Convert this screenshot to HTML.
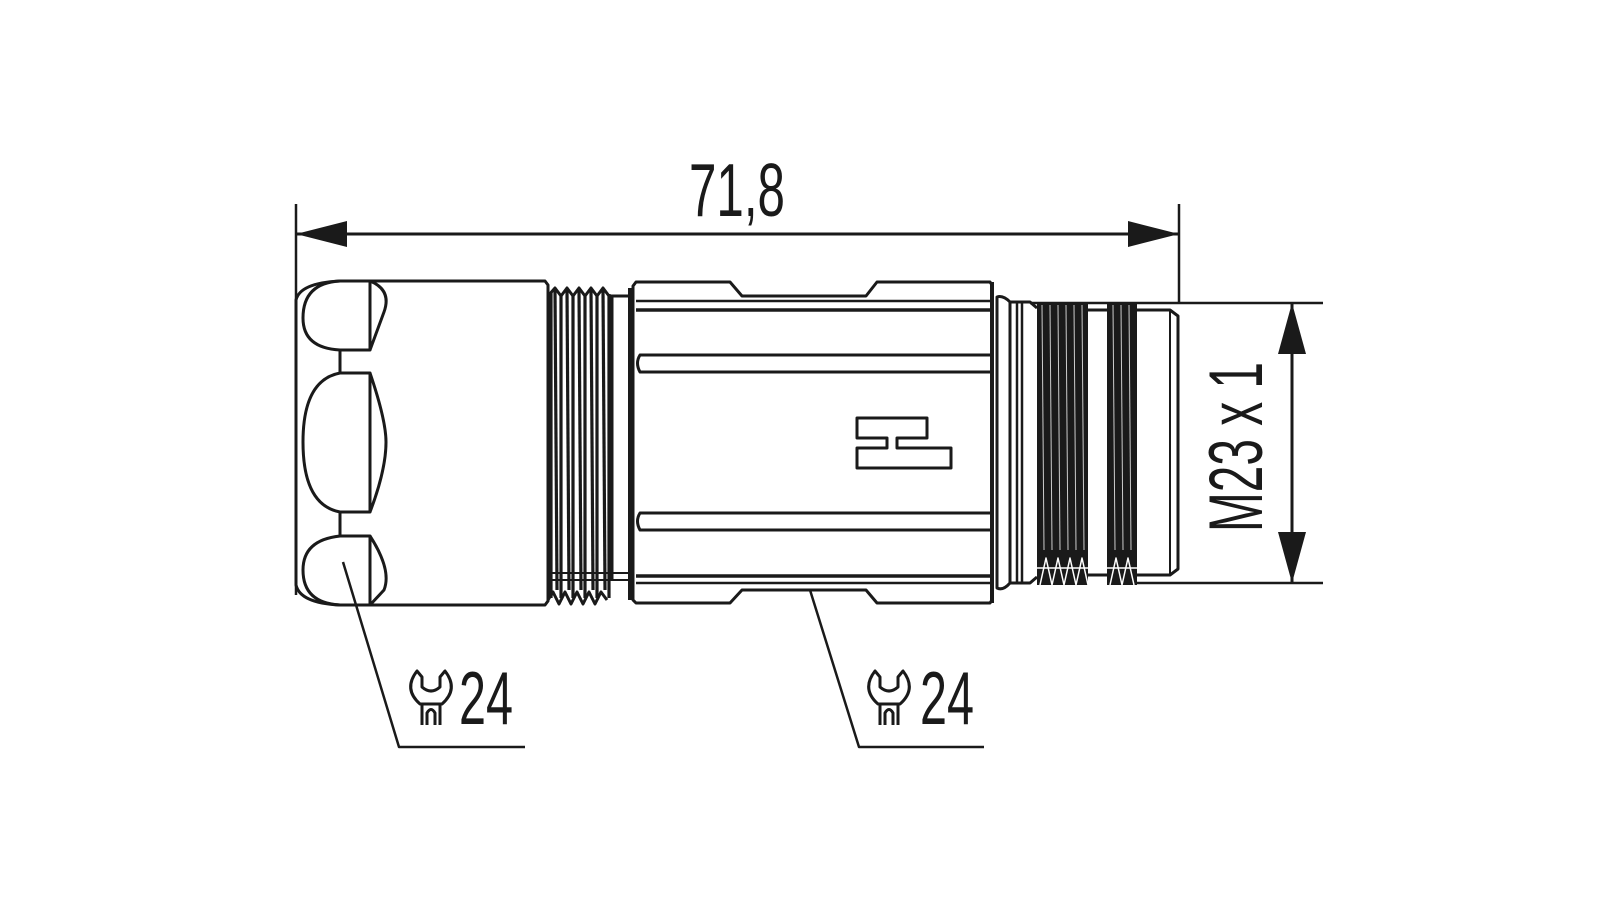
<!DOCTYPE html>
<html><head><meta charset="utf-8"><style>
html,body{margin:0;padding:0;background:#fff;width:1600px;height:900px;overflow:hidden}
text{font-family:"Liberation Sans",sans-serif;fill:#1a1a1a}
</style></head><body>
<svg width="1600" height="900" viewBox="0 0 1600 900" xmlns="http://www.w3.org/2000/svg">
<defs>
<g id="wr" fill="none" stroke="#1a1a1a" stroke-width="3" stroke-linejoin="round">
<path d="M-14,-26 Q-28,-8 -11,7 L11,7 Q28,-8 14,-26 L9,-20 L9,-10 Q0,-2 -9,-10 L-9,-20 Z"/>
<path d="M-9,7 L-9,28 M9,7 L9,28 M-4,28 L-4,16 Q0,9 4,16 L4,28"/>
</g>
</defs>
<g fill="none" stroke="#1a1a1a" stroke-width="3" stroke-linejoin="round">
<line x1="296" y1="204" x2="296" y2="595" stroke-width="2.5"/>
<line x1="1179" y1="204" x2="1179" y2="303" stroke-width="2.5"/>
<line x1="296" y1="234" x2="1179" y2="234" stroke-width="3"/>
<polygon points="296,234 347,221 347,247" fill="#1a1a1a" stroke="none"/>
<polygon points="1179,234 1128,221 1128,247" fill="#1a1a1a" stroke="none"/>

<path d="M296,300 Q300,283 340,281 L545,281 L548,285 L548,601 L545,605 L340,605 Q300,603 296,585 Z"/>
<path d="M370,281 L340,281 Q303,283 303,318 Q303,348 340,350 L370,350 Z"/>
<path d="M370,281 Q392,290 384,312 L370,350"/>
<path d="M370,373 L340,373 Q303,380 303,442 Q303,505 340,512 L370,512 Z"/>
<path d="M370,373 Q386,420 386,442 Q386,470 370,512"/>
<path d="M370,536 L340,536 Q303,540 303,570 Q303,603 340,605 L370,605 Z"/>
<path d="M370,536 Q392,570 384,590 L370,605"/>
<line x1="340" y1="350" x2="340" y2="373"/>
<line x1="340" y1="512" x2="340" y2="536"/>

<path d="M548,296 L555,288 L561,296 L567,288 L573,296 L579,288 L585,296 L591,288 L597,296 L603,288 L609,296 L612,296"/>
<g stroke-width="3.2">
<line x1="551" y1="293" x2="551" y2="598"/><line x1="555" y1="290" x2="557" y2="590"/>
<line x1="561" y1="294" x2="561" y2="598"/><line x1="567" y1="290" x2="569" y2="590"/>
<line x1="573" y1="294" x2="573" y2="598"/><line x1="579" y1="290" x2="581" y2="590"/>
<line x1="585" y1="294" x2="585" y2="598"/><line x1="591" y1="290" x2="593" y2="590"/>
<line x1="597" y1="294" x2="597" y2="598"/><line x1="603" y1="290" x2="605" y2="590"/>
<line x1="609" y1="294" x2="609" y2="598"/>
</g>
<path d="M548,600 L553,592 L559,604 L565,592 L571,604 L577,592 L583,604 L589,592 L595,604 L601,592 L607,600"/>
<line x1="548" y1="573" x2="630" y2="573" stroke-width="2"/>
<line x1="548" y1="580" x2="630" y2="580" stroke-width="2"/>
<line x1="612" y1="296" x2="628" y2="296"/>
<line x1="612" y1="296" x2="612" y2="580"/>
<line x1="630" y1="288" x2="630" y2="600" stroke-width="4"/>

<path d="M633,286 L636,282 L730,282 L742,296 L866,296 L877,282 L990,282 L992,285 L992,600 L990,603 L877,603 L866,590 L742,590 L730,603 L636,603 L633,600 Z"/>
<line x1="636" y1="301" x2="990" y2="301" stroke-width="2.5"/>
<line x1="636" y1="310" x2="990" y2="310" stroke-width="3.5"/>
<path d="M990,355 L640,355 Q635,363 640,372 L990,372" stroke-width="3"/>
<path d="M990,513 L640,513 Q635,521 640,530 L990,530" stroke-width="3"/>
<line x1="636" y1="576" x2="990" y2="576" stroke-width="3.5"/>
<line x1="636" y1="583" x2="990" y2="583" stroke-width="2.5"/>
<path d="M857,418 H927 V438 H897 V448 H951 V468 H857 V448 H887 V438 H857 Z"/>

<line x1="992" y1="282" x2="992" y2="603" stroke-width="4"/>
<path d="M997,297 Q1003,295 1010,302 L1010,583 Q1003,591 997,588 Z"/>
<line x1="1017" y1="302" x2="1017" y2="583" stroke-width="2.5"/>
<line x1="1022" y1="302" x2="1022" y2="583" stroke-width="2.5"/>
<path d="M1010,302 L1030,302 L1037,308 M1010,583 L1030,583 L1037,577"/>
<rect x="1037" y="302" width="51" height="283" fill="#1a1a1a" stroke="none"/>
<rect x="1107" y="302" width="30" height="283" fill="#1a1a1a" stroke="none"/>
<g stroke="#ccc" stroke-width="1">
<line x1="1042" y1="305" x2="1044" y2="550"/><line x1="1050" y1="305" x2="1052" y2="550"/>
<line x1="1058" y1="305" x2="1060" y2="550"/><line x1="1066" y1="305" x2="1068" y2="550"/>
<line x1="1074" y1="305" x2="1076" y2="550"/><line x1="1082" y1="305" x2="1084" y2="550"/>
<line x1="1113" y1="305" x2="1115" y2="550"/><line x1="1121" y1="305" x2="1123" y2="550"/>
<line x1="1129" y1="305" x2="1131" y2="550"/>
</g>
<g stroke="#fff" stroke-width="1.5">
<path d="M1040,585 L1046,558 L1052,585 L1058,558 L1064,585 L1070,558 L1076,585 L1082,558 L1088,585"/>
<path d="M1110,585 L1116,558 L1122,585 L1128,558 L1134,585"/>
<line x1="1037" y1="568" x2="1088" y2="568"/><line x1="1107" y1="568" x2="1137" y2="568"/>
</g>
<line x1="1088" y1="310" x2="1107" y2="310"/>
<line x1="1088" y1="575" x2="1107" y2="575"/>
<path d="M1137,310 L1170,310 L1178,316 L1178,569 L1170,575 L1137,575"/>
<line x1="1170" y1="310" x2="1170" y2="575" stroke-width="2"/>
<line x1="1030" y1="303" x2="1323" y2="303" stroke-width="2.5"/>
<line x1="1137" y1="583" x2="1323" y2="583" stroke-width="2.5"/>
<line x1="1292" y1="303" x2="1292" y2="583"/>
<polygon points="1292,303 1278,354 1306,354" fill="#1a1a1a" stroke="none"/>
<polygon points="1292,583 1278,532 1306,532" fill="#1a1a1a" stroke="none"/>

<path d="M343,562 L399,747 L525,747" stroke-width="2.5"/>
<path d="M810,590 L859,747 L984,747" stroke-width="2.5"/>
</g>
<use href="#wr" x="431" y="697"/>
<use href="#wr" x="889" y="697"/>
<text x="689" y="216" font-size="75" textLength="96" lengthAdjust="spacingAndGlyphs">71,8</text>
<text x="459" y="724" font-size="75" textLength="54" lengthAdjust="spacingAndGlyphs">24</text>
<text x="920" y="724" font-size="75" textLength="54" lengthAdjust="spacingAndGlyphs">24</text>
<text x="0" y="0" font-size="76" textLength="170" lengthAdjust="spacingAndGlyphs" transform="translate(1262,532) rotate(-90)">M23 x 1</text>
</svg>
</body></html>
